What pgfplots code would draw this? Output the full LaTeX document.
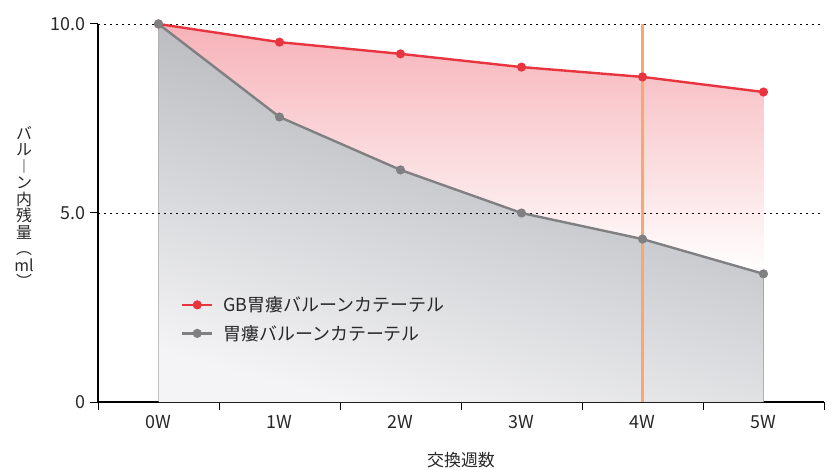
\documentclass[border=0pt]{standalone}
\usepackage{fontspec}
\setmainfont{Noto Sans CJK JP}
\usepackage{pgfplots}
\pgfplotsset{compat=1.18}
\usepgfplotslibrary{fillbetween}
\definecolor{redline}{RGB}{232,52,63}
\definecolor{grayline}{RGB}{128,128,131}
\definecolor{orangeline}{RGB}{246,168,110}
\definecolor{pinktop}{RGB}{246,178,184}
\definecolor{graydark}{RGB}{168,170,174}
\definecolor{graylight}{RGB}{244,244,246}
\definecolor{txt}{RGB}{40,40,40}
\begin{document}
\begin{tikzpicture}
\begin{axis}[
  at={(0,0)}, anchor=south west,
  scale only axis, width=726bp, height=378bp,
  xmin=-0.5, xmax=5.5, ymin=0, ymax=10,
  axis x line*=bottom, axis y line*=left,
  axis line style={-, line width=1.1bp, black},
  xtick={0,1,2,3,4,5},
  xticklabels={0W,1W,2W,3W,4W,5W},
  major x tick style={draw=none},
  minor xtick={-0.5,0.5,1.5,2.5,3.5,4.5,5.5},
  minor tick length=8bp,
  minor x tick style={black, line width=1bp},
  ytick={0,5,10},
  yticklabels={0,5.0,10.0},
  major tick length=8bp,
  tick align=outside,
  major y tick style={black, line width=1bp},
  /pgf/number format/assume math mode=true,
  ticklabel style={font=\fontsize{18}{20}\selectfont, text=txt},
  xticklabel style={yshift=-2bp},
  yticklabel style={xshift=-1bp},
  clip=false,
  legend style={at={(rel axis cs:0.11,0.29)}, anchor=north west, draw=none, fill=none,
    font=\fontsize{18}{20}\selectfont, text=txt, row sep=8bp,
    /tikz/every odd column/.append style={column sep=8bp}},
  legend cell align=left,
  legend image code/.code={\draw[mark repeat=2,mark phase=2] plot coordinates {(0bp,0bp)(15bp,0bp)(30bp,0bp)};},
]
% dotted grid lines
\addplot[forget plot, black, line width=0.9bp, dash pattern=on 1.6bp off 4.4bp] coordinates {(-0.5,10)(5.5,10)};
\addplot[forget plot, black, line width=0.9bp, dash pattern=on 1.6bp off 4.4bp] coordinates {(-0.5,5)(5.5,5)};
% paths
\addplot[forget plot, draw=none, name path=base] coordinates {(0,0)(5,0)};
\addplot[forget plot, draw=none, name path=redp] coordinates {(0,10)(1,9.52)(2,9.21)(3,8.86)(4,8.60)(5,8.20)};
\addplot[forget plot, draw=none, name path=grayp] coordinates {(0,10)(1,7.54)(2,6.14)(3,5.00)(4,4.31)(5,3.39)};
\addplot[forget plot, top color=pinktop, bottom color=white] fill between[of=redp and grayp];
\addplot[forget plot, top color=graydark, bottom color=graylight, shading angle=-15] fill between[of=grayp and base];
% orange line
\addplot[forget plot, orangeline, line width=3bp] coordinates {(4,0)(4,10)};
% series
\addplot[redline, line width=2.4bp, mark=*, mark size=3.3bp, mark options={fill=redline, draw=redline}] coordinates {(0,10)(1,9.52)(2,9.21)(3,8.86)(4,8.60)(5,8.20)};
\addlegendentry{GB胃瘻バルーンカテーテル}
\addplot[grayline, line width=2.4bp, mark=*, mark size=3.3bp, mark options={fill=grayline, draw=grayline}] coordinates {(0,10)(1,7.54)(2,6.14)(3,5.00)(4,4.31)(5,3.39)};
\addlegendentry{胃瘻バルーンカテーテル}
% axis labels
\node[font=\fontsize{17}{20}\selectfont, text=txt, anchor=center] at ([yshift=-58bp]rel axis cs:0.5,0) {交換週数};
\node[font=\fontsize{16}{16.5}\selectfont, text=txt, align=center, anchor=center] at ([xshift=-74bp, yshift=6bp]rel axis cs:0,0.5) {バ\\ル\\︱\\ン\\内\\残\\量\\︵\\ml\\︶};
\end{axis}
\pgfresetboundingbox
\path (-98bp,-68bp) rectangle (735bp,402bp);
\end{tikzpicture}
\end{document}
